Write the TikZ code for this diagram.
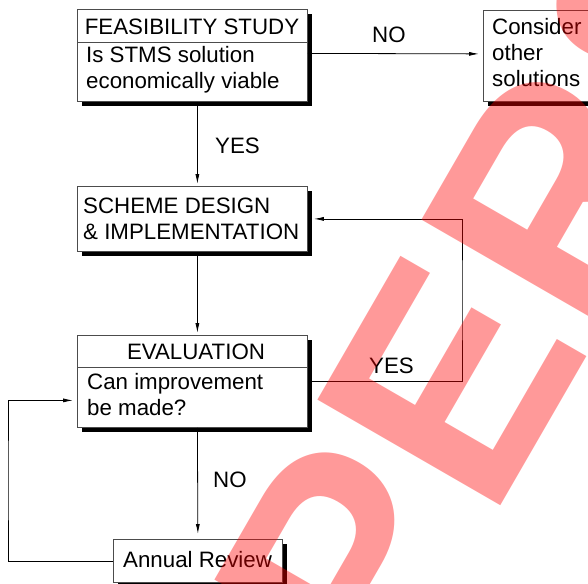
\documentclass[tikz,border=0pt]{standalone}
\usepackage{fontspec}
\setmainfont{Liberation Sans}
\usetikzlibrary{positioning,shadows,arrows.meta}

\begin{document}
\begin{tikzpicture}[
    x=1pt, y=-1pt,
    font=\fontsize{22.3}{26}\selectfont,
    stagebox/.style={draw=black!70,line width=0.8pt,fill=white,inner sep=0pt,anchor=north west,
      drop shadow={shadow xshift=5pt,shadow yshift=-5pt,fill=black,opacity=1}},
    divider/.style={draw=black!70,line width=0.8pt},
    boxtext/.style={inner sep=0pt,anchor=base west,align=left},
    answer/.style={inner sep=0pt,anchor=base west},
    flow/.style={draw,line width=0.8pt,-{Latex[length=10pt,width=4pt]}}
    ]
    \useasboundingbox (0,0) rectangle (588,583);

    \node[stagebox, minimum width=230pt, minimum height=92pt] (feas) at (77,9) {};
    \node[stagebox, minimum width=230pt, minimum height=65pt] (scheme) at (77,186) {};
    \node[stagebox, minimum width=230pt, minimum height=92pt] (eval) at (77,335) {};
    \node[stagebox, minimum width=169pt, minimum height=43pt] (review) at (113,539) {};
    \node[stagebox, minimum width=130pt, minimum height=91pt] (consider) at (483,10) {};

    \draw[divider] ([yshift=-33pt]feas.north west) -- ([yshift=-33pt]feas.north east);
    \draw[divider] ([yshift=-32pt]eval.north west) -- ([yshift=-32pt]eval.north east);

    \node[inner sep=0pt, anchor=base] (feastitle) at (192,35) {FEASIBILITY STUDY};
    \node[boxtext] (feasbody) at (86,89) {Is STMS solution\\economically viable};
    \node[boxtext] (schemebody) at (83,239) {SCHEME DESIGN\\\& IMPLEMENTATION};
    \node[inner sep=0pt, anchor=base] (evaltitle) at (196,359) {EVALUATION};
    \node[boxtext] (evalbody) at (87,415) {Can improvement\\be made?};
    \node[boxtext] (reviewtext) at (123,567) {Annual Review};
    \node[boxtext] (considertext) at (492,87) {Consider\\other\\solutions};

    \coordinate (loopright) at (462,300);
    \coordinate (loopleft) at (8,480);

    \draw[flow, shorten >=4pt] ([yshift=2pt]feas.east) -- ([yshift=2pt]consider.west);
    \draw[flow, shorten >=2pt] ([xshift=5pt]feas.south) -- ([xshift=5pt]scheme.north);
    \draw[flow, shorten >=2pt] ([xshift=5pt]scheme.south) -- ([xshift=5pt]eval.north);
    \draw[flow, shorten >=5pt] ([xshift=5pt]eval.south) -- (review.north);
    \draw[flow, shorten >=6pt] (eval.east) -| (loopright) |- (scheme.east);
    \draw[flow, shorten >=4pt] (review.west) -| (loopleft) |- ([yshift=-19pt]eval.west);

    \node[answer] (feasno) at (372,43) {NO};
    \node[answer] (feasyes) at (215,153) {YES};
    \node[answer] (evalyes) at (369,373) {YES};
    \node[answer] (evalno) at (213,487) {NO};

    % watermark
    \begin{scope}
      \clip (0,0) rectangle (588,583);
      \node[rotate=60, anchor=base west, inner sep=0pt, text=red, opacity=0.4,
        font=\fontsize{307}{307}\selectfont\bfseries] (stamp) at (173.8,1073.1)
        {SUP\kern3pt E\kern3pt R\kern8pt SEDED};
    \end{scope}
  \end{tikzpicture}
\end{document}
